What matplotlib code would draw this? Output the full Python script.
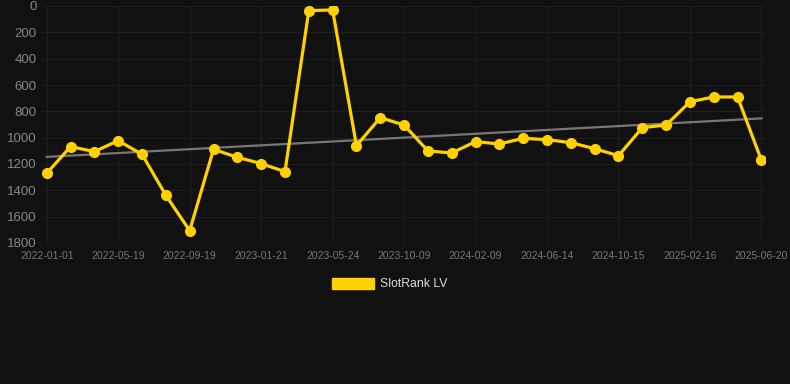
import matplotlib.pyplot as plt
import matplotlib.patches as mpatches
import numpy as np

plt.rcParams['font.family'] = ['Liberation Sans', 'DejaVu Sans']

tick_dates = ['2022-01-01', '2022-05-19', '2022-09-19', '2023-01-21', '2023-05-24',
              '2023-10-09', '2024-02-09', '2024-06-14', '2024-10-15', '2025-02-16',
              '2025-06-20']
rank_lv = [1270, 1068, 1106, 1023, 1127, 1438, 1706, 1089, 1149, 1197, 1258,
           35, 30, 1061, 848, 904, 1101, 1116, 1030, 1048, 1005, 1015, 1038,
           1084, 1137, 924, 904, 727, 691, 691, 1172]
series_name = 'SlotRank LV'

bg = '#111111'
gold = '#ffd100'

fig = plt.figure(figsize=(7.9, 3.84), dpi=100, facecolor=bg)
ax = fig.add_axes([42 / 790, 141 / 384, 723 / 790, 237 / 384], facecolor=bg)

x = np.arange(len(rank_lv))
y = np.array(rank_lv, dtype=float)

# trend line (least squares)
k, b = np.polyfit(x, y, 1)
ax.plot(x, k * x + b, color='#777777', lw=1.6, zorder=2)

ax.plot(x, y, color=gold, lw=2.3, marker='o', ms=7, zorder=3)

ax.set_ylim(1800, 0)
ax.set_yticks(np.arange(0, 1801, 200))
ax.set_xlim(-0.2, len(rank_lv) - 1 + 0.15)
ax.set_xticks(x[::3])
ax.set_xticklabels(tick_dates)

ax.grid(True, color='#1e1e1e', lw=0.8)
ax.set_axisbelow(True)
for s in ax.spines.values():
    s.set_visible(False)
ax.tick_params(axis='y', colors='#888888', labelsize=9.5, length=0, pad=4)
ax.tick_params(axis='x', colors='#777777', labelsize=7.5, length=0, pad=6)

handle = mpatches.Patch(color=gold, label=series_name)
leg = fig.legend(handles=[handle], loc='center', bbox_to_anchor=(390 / 790, 1 - 284 / 384),
                 frameon=False, fontsize=8.8, handlelength=3.4, handleheight=1.0,
                 handletextpad=0.5)
for t in leg.get_texts():
    t.set_color('#dddddd')

fig.savefig('out.png', dpi=100, facecolor=bg)
